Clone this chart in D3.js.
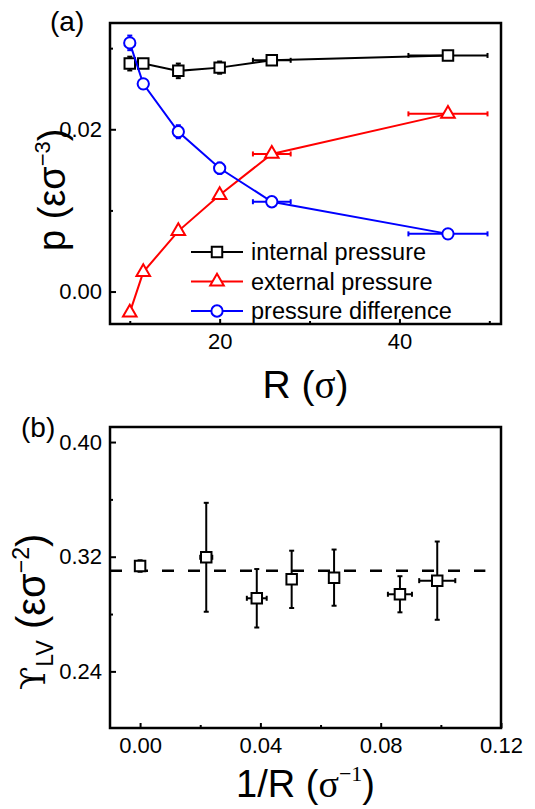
<!DOCTYPE html>
<html>
<head>
<meta charset="utf-8">
<script src="https://cdn.jsdelivr.net/npm/d3@7"></script>
<style>
  body { margin: 0; background: #fff; }
  text { font-family: "Liberation Sans", Arial, sans-serif; fill: #000; }
</style>
</head>
<body>
<script>
// panel (a) data
const R = [10, 11.5, 15.4, 20, 25.8, 45.4];
const Rerr = [0, 0, 0, 0, 2.1, 4.4];
const pInternal = [0.0281, 0.0281, 0.0272, 0.0276, 0.0285, 0.0291];
const pInternalErr = [0.00085, 0.0003, 0.0009, 0.00075, 0.0003, 0.0002];
const pExternal = [-0.0026, 0.0024, 0.00745, 0.0119, 0.01696, 0.0219];
const pExternalErr = [0.0003, 0.0003, 0.0003, 0.0003, 0.0003, 0.0002];
const pDiff = [0.03065, 0.0256, 0.0197, 0.0152, 0.01107, 0.00711];
const pDiffErr = [0.0009, 0.0004, 0.0008, 0.0007, 0.0003, 0.0002];
const legendNames = ["internal pressure", "external pressure", "pressure difference"];

// panel (b) data
const invR = [0, 0.022, 0.0388, 0.0504, 0.0645, 0.0864, 0.0988];
const invRErr = [0, 0.002, 0.0033, 0, 0, 0.004, 0.006];
const gamma = [0.3135, 0.3196, 0.2910, 0.3042, 0.3054, 0.2938, 0.3033];
const gammaErr = [0.004, 0.038, 0.0204, 0.020, 0.0196, 0.0126, 0.0273];
const gammaFit = 0.3102;

const W = 535, H = 809;
const svg = d3.select("body").append("svg")
  .attr("width", W).attr("height", H);

const left = 110, right = 501;

// scales
const xA = d3.scaleLinear().domain([7.8, 51.3]).range([left, right]);
const yA = d3.scaleLinear().domain([-0.0040, 0.0331]).range([324, 23]);
const xB = d3.scaleLinear().domain([-0.01, 0.12]).range([left, right]);
const yB = d3.scaleLinear().domain([0.2005, 0.4105]).range([728, 427]);

const symbols = {
  square: d3.symbol().type(d3.symbolSquare).size(110),
  triangle: d3.symbol().type(d3.symbolTriangle).size(80),
  circle: d3.symbol().type(d3.symbolCircle).size(100)
};

// draws the frame, ticks (inward) and tick labels of one panel
const drawAxes = (x, y, xMajor, xMinor, yMajor, yMinor, xFmt, yFmt) => {
  const [y0, y1] = y.range();
  const g = svg.append("g");

  g.append("g")
    .attr("transform", `translate(0,${y0})`)
    .call(d3.axisBottom(x).tickValues(xMajor).tickSizeInner(-5).tickSizeOuter(0).tickPadding(9).tickFormat(xFmt))
    .call(a => a.select(".domain").remove());
  g.append("g")
    .attr("transform", `translate(0,${y0})`)
    .call(d3.axisBottom(x).tickValues(xMinor).tickSizeInner(-3).tickSizeOuter(0).tickFormat(""))
    .call(a => a.select(".domain").remove());
  g.append("g")
    .attr("transform", `translate(${left},0)`)
    .call(d3.axisLeft(y).tickValues(yMajor).tickSizeInner(-6).tickSizeOuter(0).tickPadding(8).tickFormat(yFmt))
    .call(a => a.select(".domain").remove());
  g.append("g")
    .attr("transform", `translate(${left},0)`)
    .call(d3.axisLeft(y).tickValues(yMinor).tickSizeInner(-3).tickSizeOuter(0).tickFormat(""))
    .call(a => a.select(".domain").remove());

  g.selectAll(".tick line").attr("stroke", "#000").attr("stroke-width", 2);
  g.selectAll(".tick text")
    .style("font-family", '"Liberation Sans", Arial, sans-serif')
    .style("font-size", "22px");

  g.append("rect")
    .attr("x", left).attr("y", y1)
    .attr("width", right - left).attr("height", y0 - y1)
    .attr("fill", "none").attr("stroke", "#000").attr("stroke-width", 2.5);
};

const errBars = (g, pts, color, cap) => {
  pts.forEach(p => {
    if (p.ey > 0) {
      g.append("line").attr("x1", p.x).attr("x2", p.x).attr("y1", p.yLo).attr("y2", p.yHi)
        .attr("stroke", color).attr("stroke-width", 2);
      [p.yLo, p.yHi].forEach(yy => g.append("line")
        .attr("x1", p.x - cap).attr("x2", p.x + cap).attr("y1", yy).attr("y2", yy)
        .attr("stroke", color).attr("stroke-width", 2));
    }
    if (p.ex > 0) {
      g.append("line").attr("x1", p.xLo).attr("x2", p.xHi).attr("y1", p.y).attr("y2", p.y)
        .attr("stroke", color).attr("stroke-width", 2);
      [p.xLo, p.xHi].forEach(xx => g.append("line")
        .attr("x1", xx).attr("x2", xx).attr("y1", p.y - cap).attr("y2", p.y + cap)
        .attr("stroke", color).attr("stroke-width", 2));
    }
  });
};

// ---------- panel (a) ----------
drawAxes(xA, yA, [20, 40], [10, 30, 50], [0, 0.02], [0.01, 0.03],
  d3.format("d"), d3.format(".2f"));

const seriesA = [
  { name: legendNames[0], color: "#000000", shape: "square", vals: pInternal, errs: pInternalErr },
  { name: legendNames[1], color: "#ff0000", shape: "triangle", vals: pExternal, errs: pExternalErr },
  { name: legendNames[2], color: "#0000ff", shape: "circle", vals: pDiff, errs: pDiffErr }
];

const line = d3.line().x(d => d.x).y(d => d.y);

seriesA.forEach(s => {
  const g = svg.append("g");
  const pts = R.map((r, i) => ({
    x: xA(r), y: yA(s.vals[i]),
    ex: Rerr[i], xLo: xA(r - Rerr[i]), xHi: xA(r + Rerr[i]),
    ey: s.errs[i], yLo: yA(s.vals[i] - s.errs[i]), yHi: yA(s.vals[i] + s.errs[i])
  }));
  g.append("path").attr("d", line(pts))
    .attr("fill", "none").attr("stroke", s.color).attr("stroke-width", 2);
  errBars(g, pts, s.color, 2.5);
  g.selectAll("path.m").data(pts).enter().append("path")
    .attr("class", "m")
    .attr("d", symbols[s.shape])
    .attr("transform", d => `translate(${d.x},${d.y})`)
    .attr("fill", "#fff").attr("stroke", s.color).attr("stroke-width", 2);
});

// legend
const legend = svg.append("g");
seriesA.forEach((s, i) => {
  const ly = 252 + i * 29.5;
  legend.append("line").attr("x1", 191).attr("x2", 243).attr("y1", ly).attr("y2", ly)
    .attr("stroke", s.color).attr("stroke-width", 2);
  legend.append("path").attr("d", symbols[s.shape])
    .attr("transform", `translate(217,${ly})`)
    .attr("fill", "#fff").attr("stroke", s.color).attr("stroke-width", 2);
  legend.append("text").attr("x", 251).attr("y", ly + 8)
    .style("font-size", "23.5px").text(s.name);
});

// axis titles (a)
svg.append("text").attr("x", 50).attr("y", 31).style("font-size", "28px").text("(a)");

const xTitleA = svg.append("text")
  .attr("x", (left + right) / 2).attr("y", 398)
  .attr("text-anchor", "middle").style("font-size", "39px");
xTitleA.append("tspan").text("R (");
xTitleA.append("tspan").style("font-family", '"Liberation Serif", serif').text("σ");
xTitleA.append("tspan").text(")");

const yTitleA = svg.append("text")
  .attr("transform", "translate(65,251) rotate(-90)")
  .style("font-size", "38px");
yTitleA.append("tspan").text("p (εσ");
yTitleA.append("tspan").attr("dy", -15).style("font-size", "22px").text("−3");
yTitleA.append("tspan").attr("dy", 15).text(")");

// ---------- panel (b) ----------
drawAxes(xB, yB, [0, 0.04, 0.08, 0.12], [0.02, 0.06, 0.10], [0.24, 0.32, 0.40], [0.28, 0.36],
  d3.format(".2f"), d3.format(".2f"));

svg.append("line")
  .attr("x1", xB(-0.01)).attr("x2", xB(0.1148))
  .attr("y1", yB(gammaFit)).attr("y2", yB(gammaFit))
  .attr("stroke", "#000").attr("stroke-width", 2.5).attr("stroke-dasharray", "12,14");

const gB = svg.append("g");
const ptsB = invR.map((v, i) => ({
  x: xB(v), y: yB(gamma[i]),
  ex: invRErr[i], xLo: xB(v - invRErr[i]), xHi: xB(v + invRErr[i]),
  ey: gammaErr[i], yLo: yB(gamma[i] - gammaErr[i]), yHi: yB(gamma[i] + gammaErr[i])
}));
errBars(gB, ptsB, "#000", 2.5);
gB.selectAll("path.m").data(ptsB).enter().append("path")
  .attr("class", "m")
  .attr("d", symbols.square)
  .attr("transform", d => `translate(${d.x},${d.y})`)
  .attr("fill", "#fff").attr("stroke", "#000").attr("stroke-width", 2);

svg.append("text").attr("x", 21).attr("y", 437).style("font-size", "28px").text("(b)");

const xTitleB = svg.append("text")
  .attr("x", (left + right) / 2).attr("y", 797)
  .attr("text-anchor", "middle").style("font-size", "38px");
xTitleB.append("tspan").text("1/R (");
xTitleB.append("tspan").style("font-family", '"Liberation Serif", serif').text("σ");
xTitleB.append("tspan").attr("dy", -16).style("font-family", '"Liberation Serif", serif')
  .style("font-size", "22px").text("−1");
xTitleB.append("tspan").attr("dy", 16).text(")");

const yTitleB = svg.append("text")
  .attr("transform", "translate(45,690) rotate(-90)")
  .style("font-size", "40px");
yTitleB.append("tspan").style("font-family", '"DejaVu Serif", serif').style("font-size", "34px").text("ϒ");
yTitleB.append("tspan").attr("dy", 8).style("font-size", "23px").text("LV");
yTitleB.append("tspan").attr("dy", -8).text(" (εσ");
yTitleB.append("tspan").attr("dy", -16).style("font-size", "23px").text("−2");
yTitleB.append("tspan").attr("dy", 16).text(")");
</script>
</body>
</html>
